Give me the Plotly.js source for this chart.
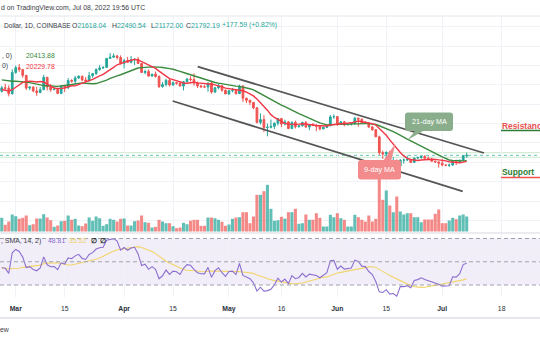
<!DOCTYPE html>
<html><head><meta charset="utf-8">
<script src="https://cdn.plot.ly/plotly-3.0.1.min.js"></script>
<style>html,body{margin:0;padding:0;background:#fff;overflow:hidden}#chart{width:540px;height:340px}</style>
</head><body><div id="chart"></div>
<script>
// ---------- DATA ----------
// closes before the visible window (only used to warm up the MA / RSI indicators)
const warmupStart = '2022-01-18';
const warmupClose = [42370,41670,40680,36450,35070,36280,36680,36960,36830,37190,
  37720,38170,37920,38480,38740,36950,37150,41570,41400,42410,
  43840,44040,44400,43550,42390,42210,42200,42590,44580,43960,
  40550,40020,40120,38390,37020,38270,37270,38330];

const firstDate = '2022-02-25';
const open = [38330,39230,39120,37710,43190,44420,43920,42450,39150,39400,
  38420,37990,38730,41940,39420,38730,38810,37780,39670,39280,
  41110,40920,41770,42240,41260,41000,42360,42890,43960,44350,
  44500,46820,47130,47450,47060,45540,46280,45810,46410,46580,
  45500,43170,43450,42250,42760,42160,39530,40070,41150,39940,
  40550,40400,39690,40800,41500,41370,40480,39710,39470,39450,
  40430,38120,39240,39740,38600,37640,38470,38520,37720,39690,
  36550,36010,35470,34060,30300,31020,28940,29030,29280,30080,
  31300,29860,30420,28690,30310,29190,29430,30280,29100,29650,
  29560,29270,28620,29010,29440,31720,31790,29800,30450,29700,
  29860,29910,31370,31120,30200,30110,29090,28420,26570,22490,
  22140,22580,20380,20470,19020,20570,20570,20720,19970,21090,
  21230,21500,21030,20730,20270,20100,19780,19300,19250,19300,
  20230,20180,20550,21618.04];
const high = [39700,40280,39860,44000,44970,45390,44100,42500,39650,39650,
  39500,39400,42570,42020,40200,39300,39280,39900,39850,41700,
  41450,42320,42390,42300,42000,43340,42990,44220,45090,44790,
  46900,48190,48100,47700,47600,46700,47200,47430,46880,47200,
  45510,43900,43970,42800,43430,42420,40700,41550,41500,40860,
  40700,40600,41000,41750,42200,42970,40800,39990,39900,40600,
  40800,39470,40370,39920,38800,38670,39170,38650,40020,39850,
  36650,36130,35500,34250,32630,32150,30000,31050,30300,31400,
  31300,31000,30680,30520,30750,29600,30450,30640,29820,30150,
  29850,29380,29200,29550,32200,32380,31950,30650,30680,29960,
  30150,31750,31560,31320,30680,30330,29420,28560,26880,23000,
  22800,22980,21350,20750,20780,21000,21720,20870,21200,21480,
  21580,21860,21520,21180,20420,20140,20880,19420,19650,20330,
  20680,20640,21830,22490.54];
const low = [38010,38600,37000,37460,42850,43350,41830,38650,38600,38100,
  37150,37860,38650,38550,38220,38660,37580,37580,38110,38880,
  40530,40150,41530,40920,40500,40880,41800,42560,43600,44100,
  44420,46650,46930,46540,45200,44250,45650,45520,45120,45350,
  43120,42730,42120,42130,41880,39200,39250,39560,39570,39770,
  40020,39560,38550,40580,40870,39770,39200,39300,39170,38200,
  37700,37880,38880,38180,37600,37390,38050,37520,37680,35580,
  35260,34760,33710,30030,29760,27800,26700,28760,28600,29480,
  29090,29500,28680,28670,28730,28950,29240,28900,28300,29330,
  28020,28250,28550,28820,29300,31220,29350,29600,29300,29480,
  29500,29900,29220,29850,29950,28880,28100,26560,21900,20850,
  20080,20240,20250,17600,17950,19650,20350,19770,19880,20740,
  20900,20990,20520,20180,19850,18630,18980,18980,18780,19050,
  19300,19790,20260,21172.00];
const close = [39230,39120,37710,43190,44420,43920,42450,39150,39400,38420,
  37990,38730,41940,39420,38730,38810,37780,39670,39280,41110,
  40920,41770,42240,41260,41000,42360,42890,43960,44350,44500,
  46820,47130,47450,47060,45540,46280,45810,46410,46580,45500,
  43170,43450,42250,42760,42160,39530,40070,41150,39940,40550,
  40400,39690,40800,41500,41370,40480,39710,39470,39450,40430,
  38120,39240,39740,38600,37640,38470,38520,37720,39690,36550,
  36010,35470,34060,30300,31020,28940,29030,29280,30080,31300,
  29860,30420,28690,30310,29190,29430,30280,29100,29650,29560,
  29270,28620,29010,29440,31720,31790,29800,30450,29700,29860,
  29910,31370,31120,30200,30110,29090,28420,26570,22490,22140,
  22580,20380,20470,19020,20570,20570,20720,19970,21090,21230,
  21500,21030,20730,20270,20100,19780,19300,19250,19300,20230,
  20180,20550,21618.04,21792.19];
const volume = [13700,6700,10000,17000,15300,12700,13700,16000,6300,7300,
  13000,13000,17300,14000,11300,4700,6000,10300,10700,16000,
  11700,12700,6000,5300,8000,14000,10700,15000,13300,5700,
  7300,12700,11700,10000,12700,13000,6000,6000,10300,11000,
  16000,9300,8700,4000,4700,11700,10000,8300,8300,5300,
  3300,4000,8700,7300,10700,11700,11700,5700,5700,14000,
  14000,13300,11700,9700,5700,7000,12700,14000,14300,19300,
  19300,8300,15000,36700,36700,40300,46700,22700,10700,11300,
  14700,13000,19300,19300,22700,7700,8300,17000,11700,11700,
  18300,13700,5000,5000,16700,14300,18300,13300,11700,5000,
  5000,16700,14300,11700,10000,16000,10000,12700,66000,31700,
  41000,26000,19300,35000,20000,17000,18300,18300,14300,14300,
  9300,12000,12000,12000,17700,22000,8300,8300,11000,13700,
  12300,16000,17000,15000];

const tickDates  = ['2022-03-01','2022-03-15','2022-04-01','2022-04-15','2022-05-01','2022-05-16','2022-06-01','2022-06-15','2022-07-01','2022-07-18'];
const tickLabels = ['<b>Mar</b>','15','<b>Apr</b>','15','<b>May</b>','16','<b>Jun</b>','15','<b>Jul</b>','18'];

const upperChannelDates  = ['2022-04-22 01:12','2022-07-12 22:48'];
const upperChannelPrices = [44675, 22400];
const lowerChannelDates  = ['2022-04-14 21:36','2022-07-06 20:38'];
const lowerChannelPrices = [35820, 12465];
const levelPrices = [22470, 21290];

const ma21Text = '20413.88', ma9Text = '20229.78';
const rsiText = '48.81', rsiMaText = '35.52';

// ---------- HELPERS ----------
function dayList(start, n){
  const d0 = new Date(start + 'T00:00:00Z'); const out = [];
  for (let i=0;i<n;i++){ const d = new Date(d0.getTime() + i*86400000); out.push(d.toISOString().slice(0,10)); }
  return out;
}
function sma(src, n){
  const out = new Array(src.length).fill(null);
  for (let i=0;i<src.length;i++){
    let ok = i>=n-1, s=0;
    if (!ok) continue;
    for (let k=i-n+1;k<=i;k++){ if (src[k]==null){ok=false;break;} s+=src[k]; }
    if (ok) out[i]=s/n;
  }
  return out;
}
function rma(src, n){
  const out = new Array(src.length).fill(null); let sum=0,cnt=0,prev=null;
  for (let i=0;i<src.length;i++){
    const v=src[i]; if (v==null) continue;
    if (prev==null){ sum+=v; cnt++; if (cnt===n){ prev=sum/n; out[i]=prev; } }
    else { prev=(prev*(n-1)+v)/n; out[i]=prev; }
  }
  return out;
}
function rsiCalc(c, n){
  const up=c.map((v,i)=>i===0?null:Math.max(v-c[i-1],0));
  const dn=c.map((v,i)=>i===0?null:Math.max(c[i-1]-v,0));
  const ru=rma(up,n), rd=rma(dn,n);
  return c.map((v,i)=>{ if(ru[i]==null) return null; if(rd[i]===0) return 100; if(ru[i]===0) return 0; return 100-100/(1+ru[i]/rd[i]); });
}

const dates = dayList(firstDate, close.length);
const allClose = warmupClose.concat(close);
const skip = warmupClose.length;
const ma9  = sma(allClose, 9).slice(skip);
const ma21 = sma(allClose, 21).slice(skip);
const rsiAll = rsiCalc(allClose, 14);
const rsi = rsiAll.slice(skip);
const rsiMa = sma(rsiAll, 14).slice(skip);

const UP='#26a69a', DN='#ef5350';
const volColors = close.map((c,i)=> c>=open[i] ? 'rgba(38,166,154,0.72)' : 'rgba(239,83,80,0.68)');

// ---------- LAYOUT GEOMETRY ----------
const W=540, H=340, T=16, B=43, PH=H-T-B;
const X = x => x/W, Y = y => (H-B-y)/PH;
const FONT = 'Liberation Sans, Arial, sans-serif';

function roundRect(x0,y0,x1,y1,r){
  return `M${X(x0+r)},${Y(y0)} L${X(x1-r)},${Y(y0)} Q${X(x1)},${Y(y0)} ${X(x1)},${Y(y0+r)} L${X(x1)},${Y(y1-r)} Q${X(x1)},${Y(y1)} ${X(x1-r)},${Y(y1)} L${X(x0+r)},${Y(y1)} Q${X(x0)},${Y(y1)} ${X(x0)},${Y(y1-r)} L${X(x0)},${Y(y0+r)} Q${X(x0)},${Y(y0)} ${X(x0+r)},${Y(y0)} Z`;
}
function tri(p){ return 'M' + p.map(q=>X(q[0])+','+Y(q[1])).join(' L') + ' Z'; }

const traces = [
  {type:'bar', x:dates, y:volume, xaxis:'x', yaxis:'y', marker:{color:volColors, line:{width:0}}, hoverinfo:'skip'},
  {type:'candlestick', x:dates, open:open, high:high, low:low, close:close, xaxis:'x', yaxis:'y2',
    increasing:{line:{color:UP,width:1}, fillcolor:UP}, decreasing:{line:{color:DN,width:1}, fillcolor:DN}, hoverinfo:'skip'},
  {type:'scatter', mode:'lines', x:dates, y:ma21, xaxis:'x', yaxis:'y2', line:{color:'#3b8a3e', width:1.4}, hoverinfo:'skip'},
  {type:'scatter', mode:'lines', x:dates, y:ma9, xaxis:'x', yaxis:'y2', line:{color:'#f23645', width:1.4}, hoverinfo:'skip'},
  {type:'scatter', mode:'lines', x:dates, y:rsiMa, xaxis:'x', yaxis:'y3', line:{color:'#f2d46a', width:1.1}, hoverinfo:'skip'},
  {type:'scatter', mode:'lines', x:dates, y:rsi, xaxis:'x', yaxis:'y3', line:{color:'#8c6fd0', width:1.1}, hoverinfo:'skip'}
];

const last = close[close.length-1];
const shapes = [
  // pane borders
  {type:'line', xref:'paper', yref:'paper', x0:0, x1:1, y0:1, y1:1, line:{color:'#e3e6ee', width:1}},
  {type:'line', xref:'paper', yref:'paper', x0:0, x1:1, y0:Y(233), y1:Y(233), line:{color:'#e3e6ee', width:1.5}},
  {type:'line', xref:'paper', yref:'paper', x0:0, x1:1, y0:Y(318), y1:Y(318), line:{color:'#e6e7ec', width:2}},
  // RSI band
  {type:'rect', xref:'paper', yref:'y3', x0:0, x1:1, y0:30, y1:70, fillcolor:'rgba(126,87,194,0.1)', line:{width:0}, layer:'below'},
  {type:'line', xref:'paper', yref:'y3', x0:0, x1:1, y0:70, y1:70, line:{color:'#a0a3ab', width:1, dash:'4px,3px'}},
  {type:'line', xref:'paper', yref:'y3', x0:0, x1:1, y0:50, y1:50, line:{color:'#a0a3ab', width:1, dash:'4px,3px'}},
  {type:'line', xref:'paper', yref:'y3', x0:0, x1:1, y0:30, y1:30, line:{color:'#a0a3ab', width:1, dash:'4px,3px'}},
  // horizontal levels and last price line
  ...levelPrices.map(p=>({type:'line', xref:'paper', yref:'y2', x0:0, x1:1, y0:p, y1:p, line:{color:'rgba(102,187,106,0.35)', width:1}, layer:'below'})),
  {type:'line', xref:'paper', yref:'y2', x0:0, x1:1, y0:last, y1:last, line:{color:'rgba(38,166,154,0.7)', width:1, dash:'dot'}, layer:'below'},
  // channel
  {type:'line', xref:'x', yref:'y2', x0:upperChannelDates[0], x1:upperChannelDates[1], y0:upperChannelPrices[0], y1:upperChannelPrices[1], line:{color:'#555', width:1.8}},
  {type:'line', xref:'x', yref:'y2', x0:lowerChannelDates[0], x1:lowerChannelDates[1], y0:lowerChannelPrices[0], y1:lowerChannelPrices[1], line:{color:'#555', width:1.8}},
  // callouts
  {type:'path', xref:'paper', yref:'paper', path:tri([[416,130],[407.5,140],[425,130]]), fillcolor:'#8aae8b', line:{width:0}},
  {type:'path', xref:'paper', yref:'paper', path:roundRect(405,112.5,453,131,3), fillcolor:'#8aae8b', line:{width:0}},
  {type:'path', xref:'paper', yref:'paper', path:tri([[383,161],[395.5,143.5],[391,161]]), fillcolor:'#f38b8c', line:{width:0}},
  {type:'path', xref:'paper', yref:'paper', path:roundRect(358,160,401,179.5,3), fillcolor:'#f38b8c', line:{width:0}},
  // resistance / support underlines
  {type:'line', xref:'paper', yref:'paper', x0:X(501), x1:X(541), y0:Y(130.5), y1:Y(130.5), line:{color:'#2e7d32', width:1.6}},
  {type:'line', xref:'paper', yref:'paper', x0:X(501), x1:X(541), y0:Y(177.5), y1:Y(177.5), line:{color:'#ef5350', width:1.6}}
];

function txt(x,y,text,color,size,extra){
  return Object.assign({xref:'paper', yref:'paper', x:X(x), y:Y(y), text:text, showarrow:false, xanchor:'left', yanchor:'middle',
    font:{family:FONT, size:size||6.8, color:color||'#434651'}, borderpad:0}, extra||{});
}
const annotations = [
  txt(0, 8, 'd on TradingView.com, Jul 08, 2022 19:56 UTC', '#3a3d45', 6.9),
  txt(3, 25, 'Dollar, 1D, COINBASE', '#3a3d45', 6.6),
  txt(70.5, 25, 'O<span style="color:#26a69a">21618.04</span>', '#3a3d45', 6.9),
  txt(110.5, 25, 'H<span style="color:#26a69a">22490.54</span>', '#3a3d45', 6.9),
  txt(150, 25, 'L<span style="color:#26a69a">21172.00</span>', '#3a3d45', 6.9),
  txt(185, 25, 'C<span style="color:#26a69a">21792.19</span>', '#3a3d45', 6.9),
  txt(221, 25, '+177.59 (+0.82%)', '#26a69a', 6.9),
  txt(1, 56, ', 0)', '#3a3d45', 6.9),
  txt(25, 56, ma21Text, '#3b8a3e', 6.9),
  txt(1, 66, '0)', '#3a3d45', 6.9),
  txt(25, 66, ma9Text, '#f23645', 6.9),
  txt(0, 240.5, ', SMA, 14, 2)', '#3a3d45', 6.9),
  txt(46.5, 240.5, rsiText, '#8c6fd0', 6.9),
  txt(68, 240.5, rsiMaText, '#ecd061', 6.9),
  txt(90, 240.5, '<b>∅</b>', '#222', 6.9),
  txt(99, 240.5, '<b>∅</b>', '#222', 6.9),
  txt(429, 121.8, '21-day MA', '#ffffff', 7.2, {xanchor:'center'}),
  txt(379.5, 169.8, '9-day MA', '#ffffff', 7.2, {xanchor:'center'}),
  txt(501, 126, '<b>Resistance</b>', '#e8514f', 8.4),
  txt(501, 172, '<b>Support</b>', '#2e7d32', 8.4),
  txt(-1.5, 329.5, 'ew', '#3a3d45', 6.9)
];

const layout = {
  width:W, height:H, margin:{l:0, r:0, t:T, b:B, autoexpand:false},
  paper_bgcolor:'#ffffff', plot_bgcolor:'#ffffff', showlegend:false, bargap:0.12, boxgap:0.3,
  xaxis:{type:'date', range:['2022-02-24 12:00','2022-07-28 23:17'], anchor:'y3', rangeslider:{visible:false},
    tickvals:tickDates, ticktext:tickLabels, showgrid:true, gridcolor:'#f0f2f7', gridwidth:1,
    ticks:'', showline:false, zeroline:false, tickfont:{family:FONT, size:6.8, color:'#2a2e39'}, ticklabelstandoff:6, fixedrange:true},
  yaxis:{domain:[Y(233),1], range:[-1500,215500], visible:false, fixedrange:true},
  yaxis2:{overlaying:'y', range:[1746,57761], side:'right', showgrid:true, gridcolor:'#f0f2f7', dtick:5000, tick0:0,
    showticklabels:false, ticks:'', zeroline:false, showline:false, fixedrange:true},
  yaxis3:{domain:[0, Y(234)], range:[19.68,73.87], tickvals:[20,40,60], showgrid:true, gridcolor:'#eef0f5',
    showticklabels:false, ticks:'', zeroline:false, showline:false, fixedrange:true, anchor:'x'},
  shapes:shapes, annotations:annotations
};

Plotly.newPlot('chart', traces, layout, {staticPlot:true, displayModeBar:false});
</script>
</body></html>
